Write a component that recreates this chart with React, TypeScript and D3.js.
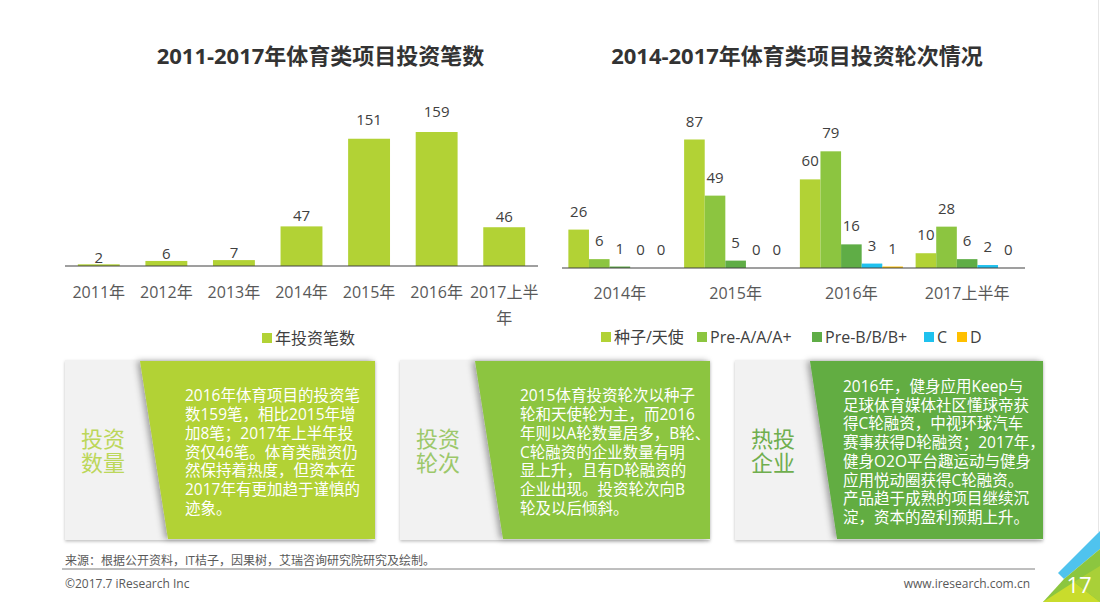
import React from "react";
import * as d3 from "d3";

// ---------- data ----------
const years1 = ["2011年", "2012年", "2013年", "2014年", "2015年", "2016年", "2017上半年"];
const deals = [2, 6, 7, 47, 151, 159, 46];
const dealsLegend = "年投资笔数";

const periods = ["2014年", "2015年", "2016年", "2017上半年"];
const rounds = ["种子/天使", "Pre-A/A/A+", "Pre-B/B/B+", "C", "D"];
const seedAngel = [26, 87, 60, 10];
const preA = [6, 49, 79, 28];
const preB = [1, 5, 16, 6];
const roundC = [0, 0, 3, 2];
const roundD = [0, 0, 1, 0];
const roundSeries = [seedAngel, preA, preB, roundC, roundD];

const title1 = "2011-2017年体育类项目投资笔数";
const title2 = "2014-2017年体育类项目投资轮次情况";

const boxLabels = [["投资", "数量"], ["投资", "轮次"], ["热投", "企业"]];
const boxTexts = [
  [
    "2016年体育项目的投资笔",
    "数159笔，相比2015年增",
    "加8笔；2017年上半年投",
    "资仅46笔。体育类融资仍",
    "然保持着热度，但资本在",
    "2017年有更加趋于谨慎的",
    "迹象。",
  ],
  [
    "2015体育投资轮次以种子",
    "轮和天使轮为主，而2016",
    "年则以A轮数量居多，B轮、",
    "C轮融资的企业数量有明",
    "显上升，且有D轮融资的",
    "企业出现。投资轮次向B",
    "轮及以后倾斜。",
  ],
  [
    "2016年，健身应用Keep与",
    "足球体育媒体社区懂球帝获",
    "得C轮融资，中视环球汽车",
    "赛事获得D轮融资；2017年，",
    "健身O2O平台趣运动与健身",
    "应用悦动圈获得C轮融资。",
    "产品趋于成熟的项目继续沉",
    "淀，资本的盈利预期上升。",
  ],
];

const sourceText = "来源：根据公开资料，IT桔子，因果树，艾瑞咨询研究院研究及绘制。";
const copyrightText = "©2017.7 iResearch Inc";
const urlText = "www.iresearch.com.cn";
const pageNo = "17";

// ---------- styles ----------
const FONT = "'Open Sans','Noto Sans CJK SC',sans-serif";
const LIME = "#b2d235";
const roundColors = ["#b2d235", "#8cc540", "#5fad46", "#1fc1ee", "#ffc000"];
const boxColors = ["#b2d235", "#8cc540", "#62ad43"];
const boxLabelColors = ["#bcd75a", "#9cc86a", "#6fae4e"];
const legend2X = [601, 697, 812, 924, 957];

function wrapLabel(s: string, n: number): string[] {
  if (s.length <= n) return [s];
  return [s.slice(0, n), s.slice(n)];
}

export default function App() {
  // left chart
  const base1 = 266;
  const x1 = d3.scaleBand<string>().domain(years1).range([65, 538]).paddingInner(0.38).paddingOuter(0.19);
  const y1 = d3.scaleLinear().domain([0, 159]).range([base1, 132]);

  // right chart
  const base2 = 268;
  const x2 = d3.scaleBand<string>().domain(periods).range([562, 1025]).paddingInner(0.11).paddingOuter(0.055);
  const xr = d3.scaleBand<string>().domain(rounds).range([0, x2.bandwidth()]).padding(0);
  const y2 = d3.scaleLinear().domain([0, 87]).range([base2, 139.5]);

  return (
    <svg
      width={1100}
      height={602}
      style={{ position: "absolute", left: 0, top: 0, background: "#fff" }}
      fontFamily={FONT}
    >
      <defs>
        <filter id="grayShadow" x="-10%" y="-10%" width="120%" height="120%">
          <feDropShadow dx="0" dy="1.5" stdDeviation="1.5" floodColor="#000" floodOpacity="0.25" />
        </filter>
        <filter id="greenShadow" x="-10%" y="-10%" width="120%" height="120%">
          <feDropShadow dx="-3" dy="0" stdDeviation="3" floodColor="#000" floodOpacity="0.35" />
        </filter>
      </defs>

      {/* titles */}
      <text x={320.5} y={55} textAnchor="middle" dominantBaseline="central" fontSize={22} fontWeight="bold" fill="#333">
        {title1}
      </text>
      <text x={797} y={55} textAnchor="middle" dominantBaseline="central" fontSize={22} fontWeight="bold" fill="#333">
        {title2}
      </text>

      {/* left chart */}
      <g>
        {deals.map((v, i) => {
          const cat = years1[i];
          const top = y1(v);
          const h = base1 - top;
          return (
            <g key={cat}>
              <rect x={x1(cat)} y={top} width={x1.bandwidth()} height={h} fill={LIME} />
              <text
                x={(x1(cat) as number) + x1.bandwidth() / 2}
                y={top - 7.5 - 0.1 * h}
                textAnchor="middle"
                dominantBaseline="central"
                fontSize={15}
                fill="#404040"
              >
                {v}
              </text>
            </g>
          );
        })}
        <line x1={65} x2={538} y1={base1} y2={base1} stroke="#404040" strokeWidth={1.2} />
        {years1.map((c) => (
          <text
            key={c}
            x={(x1(c) as number) + x1.bandwidth() / 2}
            y={292}
            textAnchor="middle"
            dominantBaseline="central"
            fontSize={16}
            fill="#595959"
          >
            {wrapLabel(c, 6).map((ln, k) => (
              <tspan key={k} x={(x1(c) as number) + x1.bandwidth() / 2} dy={k === 0 ? 0 : 26}>
                {ln}
              </tspan>
            ))}
          </text>
        ))}
        <rect x={262} y={333} width={10} height={10} fill={LIME} />
        <text x={275} y={338} dominantBaseline="central" fontSize={16} fill="#404040">
          {dealsLegend}
        </text>
      </g>

      {/* right chart */}
      <g>
        {periods.map((p, pi) => (
          <g key={p} transform={`translate(${x2(p)},0)`}>
            {rounds.map((r, ri) => {
              const v = roundSeries[ri][pi];
              const top = y2(v);
              return (
                <g key={r}>
                  <rect x={xr(r)} y={top} width={xr.bandwidth()} height={base2 - top} fill={roundColors[ri]} />
                  <text
                    x={(xr(r) as number) + xr.bandwidth() / 2}
                    y={top - 19}
                    textAnchor="middle"
                    dominantBaseline="central"
                    fontSize={15}
                    fill="#404040"
                  >
                    {v}
                  </text>
                </g>
              );
            })}
          </g>
        ))}
        <line x1={562} x2={1025} y1={base2} y2={base2} stroke="#404040" strokeWidth={1.2} />
        {periods.map((p) => (
          <text
            key={p}
            x={(x2(p) as number) + x2.bandwidth() / 2}
            y={293}
            textAnchor="middle"
            dominantBaseline="central"
            fontSize={16}
            fill="#595959"
          >
            {p}
          </text>
        ))}
        {rounds.map((r, ri) => (
          <g key={r}>
            <rect x={legend2X[ri]} y={332} width={10} height={10} fill={roundColors[ri]} />
            <text x={legend2X[ri] + 13} y={337} dominantBaseline="central" fontSize={16} fill="#404040">
              {r}
            </text>
          </g>
        ))}
      </g>

      {/* text boxes */}
      {boxTexts.map((lines, bi) => {
        const left = 65 + bi * 335;
        const right = left + 310 - (bi === 2 ? 2 : 0);
        const tl = left + 75;
        const bl = left + (bi === 2 ? 102 : 103);
        const lh = 18.75;
        const cy = 451.5;
        const firstY = cy - ((lines.length - 1) * lh) / 2;
        const tx = left + (bi === 2 ? 108 : 120);
        return (
          <g key={bi}>
            <rect x={left} y={360} width={right - left} height={180} fill="#f2f2f2" filter="url(#grayShadow)" />
            <polygon
              points={`${tl},361 ${right},361 ${right},539 ${bl},539`}
              fill={boxColors[bi]}
              filter="url(#greenShadow)"
            />
            <text
              x={left + 38}
              y={438}
              textAnchor="middle"
              dominantBaseline="central"
              fontSize={22}
              fill={boxLabelColors[bi]}
            >
              {boxLabels[bi].map((s, k) => (
                <tspan key={k} x={left + 38} dy={k === 0 ? 0 : 24}>
                  {s}
                </tspan>
              ))}
            </text>
            <text x={tx} y={firstY} dominantBaseline="central" fontSize={15.5} fill="#fff">
              {lines.map((ln, k) => (
                <tspan key={k} x={tx} dy={k === 0 ? 0 : lh}>
                  {ln}
                </tspan>
              ))}
            </text>
          </g>
        );
      })}

      {/* footer */}
      <text x={65} y={560} dominantBaseline="central" fontSize={12} fill="#595959">
        {sourceText}
      </text>
      <line x1={62} x2={1035} y1={569} y2={569} stroke="#7f7f7f" strokeWidth={1} />
      <text x={65} y={583} dominantBaseline="central" fontSize={12} fill="#595959">
        {copyrightText}
      </text>
      <text x={1030} y={583} textAnchor="end" dominantBaseline="central" fontSize={12} fill="#595959">
        {urlText}
      </text>

      {/* corner decoration */}
      <line x1={1098.5} x2={1098.5} y1={0} y2={532} stroke="#e6e6e6" strokeWidth={1} />
      <polygon points="1100,531 1100,549 1064,579 1058,573" fill="#4fc3ee" />
      <polygon points="1100,549 1100,602 1043,602 1064,579" fill="#8cc63f" />
      <polygon points="1043,602 1074,582 1100,602" fill="#c9dc2c" />
      <polygon points="1074,582 1100,566 1100,602" fill="#a9d038" />
      <text x={1079} y={584} textAnchor="middle" dominantBaseline="central" fontSize={22} fill="#fff">
        {pageNo}
      </text>
    </svg>
  );
}
